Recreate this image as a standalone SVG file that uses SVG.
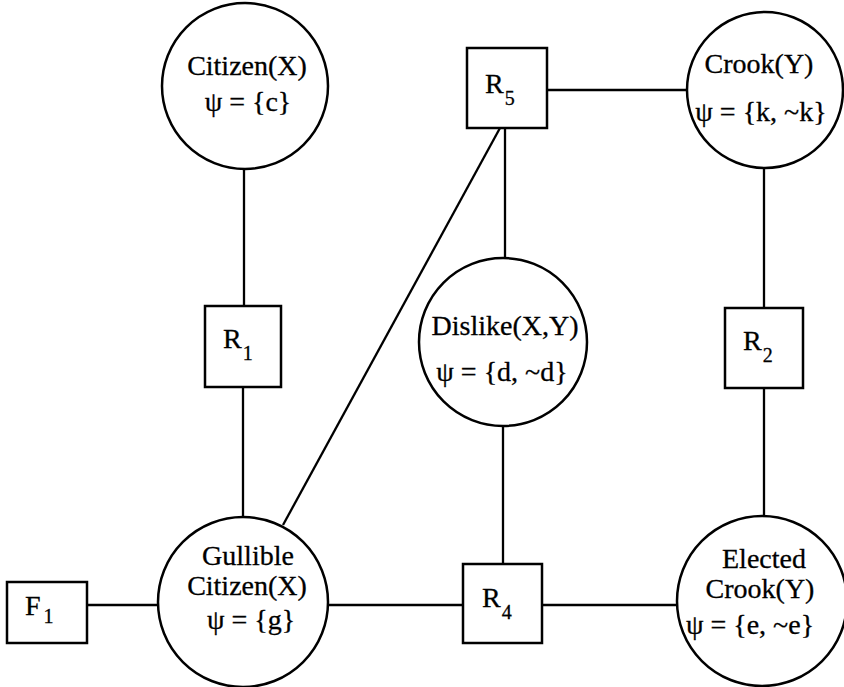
<svg xmlns="http://www.w3.org/2000/svg" width="844" height="687" viewBox="0 0 844 687">
<style>
.n{fill:#fff;stroke:#000;stroke-width:2.5}
.c{stroke:#000;stroke-width:2.3;fill:none}
text{font-family:"Liberation Serif","Times New Roman",serif;font-size:28px;fill:#000;stroke:#000;stroke-width:0.3}
.m{text-anchor:middle}
.s{font-size:20px}
</style>
<rect width="844" height="687" fill="#fff"/>
<g id="connectors">
<line class="c" x1="244" y1="168" x2="244" y2="306"/>
<line class="c" x1="243" y1="387" x2="243" y2="517"/>
<line class="c" x1="547" y1="90" x2="688" y2="90"/>
<line class="c" x1="505" y1="128" x2="505" y2="258"/>
<line class="c" x1="500" y1="128" x2="283" y2="525"/>
<line class="c" x1="764" y1="168" x2="764" y2="308"/>
<line class="c" x1="764" y1="388" x2="764" y2="516"/>
<line class="c" x1="503" y1="426" x2="503" y2="564"/>
<line class="c" x1="87" y1="605" x2="158" y2="605"/>
<line class="c" x1="328" y1="605" x2="463" y2="605"/>
<line class="c" x1="542" y1="605" x2="677" y2="605"/>
</g>
<g id="citizen">
<circle class="n" cx="245" cy="86" r="83"/>
<text class="m" x="247" y="75">Citizen(X)</text>
<text class="m" x="248" y="111">ψ = {c}</text>
</g>
<g id="crook">
<circle class="n" cx="765" cy="90" r="78"/>
<text class="m" x="759" y="73">Crook(Y)</text>
<text class="m" x="761" y="121">ψ = {k, ~k}</text>
</g>
<g id="r5">
<rect class="n" x="467" y="48" width="80" height="80"/>
<text x="485" y="93">R<tspan class="s" dx="1" dy="12">5</tspan></text>
</g>
<g id="r1">
<rect class="n" x="205" y="306" width="76" height="81"/>
<text x="223" y="348">R<tspan class="s" dx="1" dy="12">1</tspan></text>
</g>
<g id="dislike">
<circle class="n" cx="503" cy="342" r="84"/>
<text class="m" x="505" y="335">Dislike(X,Y)</text>
<text class="m" x="502" y="381">ψ = {d, ~d}</text>
</g>
<g id="r2">
<rect class="n" x="725" y="308" width="78" height="80"/>
<text x="743" y="350">R<tspan class="s" dx="1" dy="12">2</tspan></text>
</g>
<g id="f1">
<rect class="n" x="7" y="582" width="80" height="61"/>
<text x="25" y="615">F<tspan class="s" dx="3" dy="8">1</tspan></text>
</g>
<g id="gullible">
<circle class="n" cx="243" cy="602" r="85"/>
<text class="m" x="248" y="565">Gullible</text>
<text class="m" x="247" y="595">Citizen(X)</text>
<text class="m" x="251" y="629">ψ = {g}</text>
</g>
<g id="r4">
<rect class="n" x="463" y="564" width="79" height="79"/>
<text x="482" y="607">R<tspan class="s" dx="1" dy="12">4</tspan></text>
</g>
<g id="elected">
<circle class="n" cx="762" cy="601" r="85"/>
<text class="m" x="764" y="568">Elected</text>
<text class="m" x="760" y="598">Crook(Y)</text>
<text class="m" x="750" y="634">ψ = {e, ~e}</text>
</g>
</svg>
